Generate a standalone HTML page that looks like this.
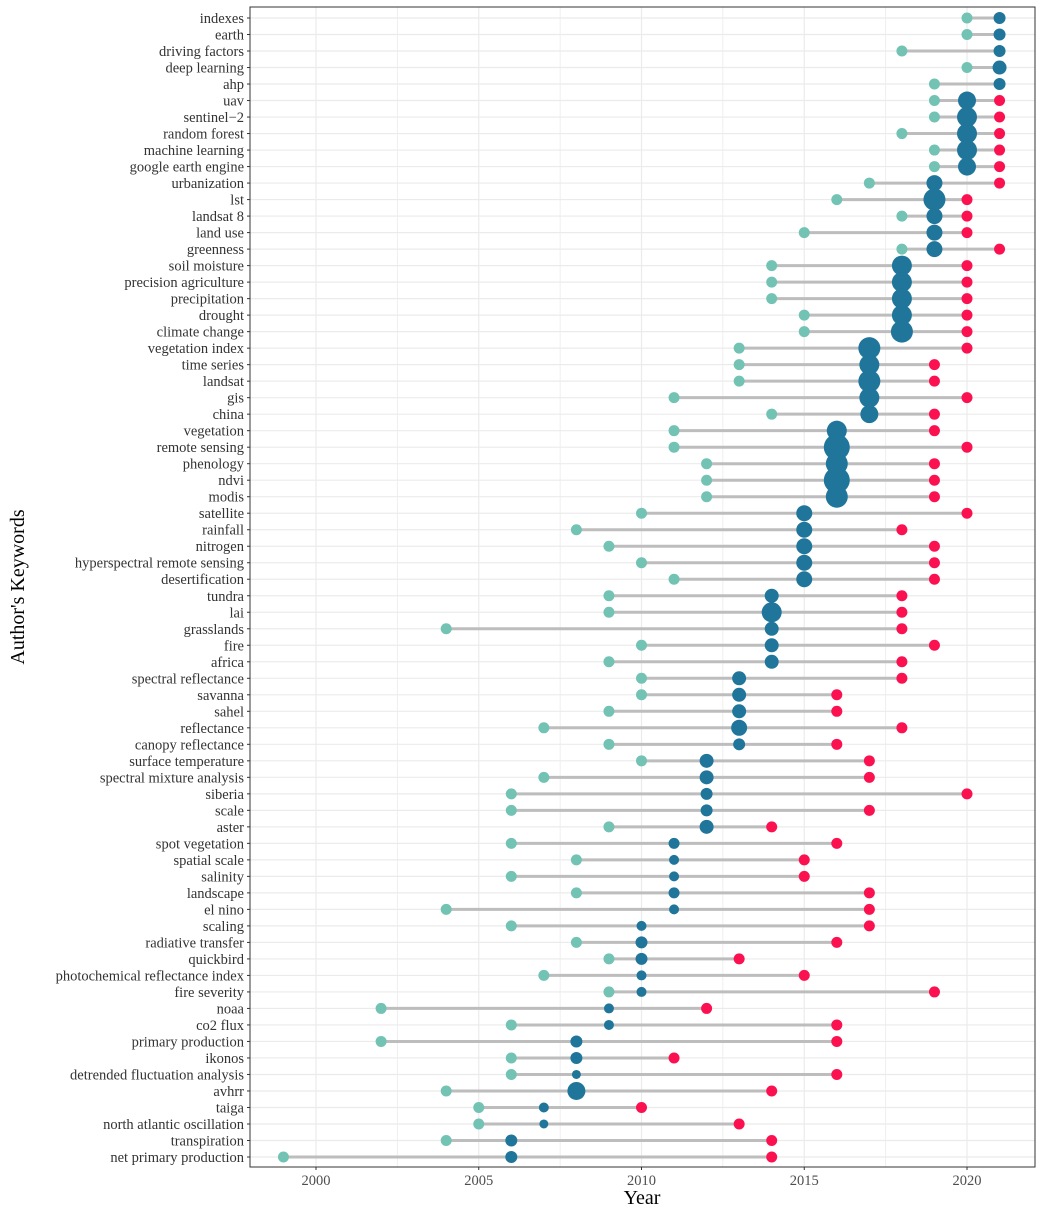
<!DOCTYPE html>
<html><head><meta charset="utf-8">
<style>
html,body{margin:0;padding:0;background:#fff;}
svg{display:block;font-family:"Liberation Serif",serif;}
</style></head>
<body>
<svg id="chart" width="1043" height="1210" viewBox="0 0 1043 1210" xmlns="http://www.w3.org/2000/svg"></svg>
<script>
const keywords = ["indexes","earth","driving factors","deep learning","ahp","uav","sentinel\u22122","random forest","machine learning","google earth engine","urbanization","lst","landsat 8","land use","greenness","soil moisture","precision agriculture","precipitation","drought","climate change","vegetation index","time series","landsat","gis","china","vegetation","remote sensing","phenology","ndvi","modis","satellite","rainfall","nitrogen","hyperspectral remote sensing","desertification","tundra","lai","grasslands","fire","africa","spectral reflectance","savanna","sahel","reflectance","canopy reflectance","surface temperature","spectral mixture analysis","siberia","scale","aster","spot vegetation","spatial scale","salinity","landscape","el nino","scaling","radiative transfer","quickbird","photochemical reflectance index","fire severity","noaa","co2 flux","primary production","ikonos","detrended fluctuation analysis","avhrr","taiga","north atlantic oscillation","transpiration","net primary production"];
const yearQ1 = [2020,2020,2018,2020,2019,2019,2019,2018,2019,2019,2017,2016,2018,2015,2018,2014,2014,2014,2015,2015,2013,2013,2013,2011,2014,2011,2011,2012,2012,2012,2010,2008,2009,2010,2011,2009,2009,2004,2010,2009,2010,2010,2009,2007,2009,2010,2007,2006,2006,2009,2006,2008,2006,2008,2004,2006,2008,2009,2007,2009,2002,2006,2002,2006,2006,2004,2005,2005,2004,1999];
const yearMedian = [2021,2021,2021,2021,2021,2020,2020,2020,2020,2020,2019,2019,2019,2019,2019,2018,2018,2018,2018,2018,2017,2017,2017,2017,2017,2016,2016,2016,2016,2016,2015,2015,2015,2015,2015,2014,2014,2014,2014,2014,2013,2013,2013,2013,2013,2012,2012,2012,2012,2012,2011,2011,2011,2011,2011,2010,2010,2010,2010,2010,2009,2009,2008,2008,2008,2008,2007,2007,2006,2006];
const yearQ3 = [2021,2021,2021,2021,2021,2021,2021,2021,2021,2021,2021,2020,2020,2020,2021,2020,2020,2020,2020,2020,2020,2019,2019,2020,2019,2019,2020,2019,2019,2019,2020,2018,2019,2019,2019,2018,2018,2018,2019,2018,2018,2016,2016,2018,2016,2017,2017,2020,2017,2014,2016,2015,2015,2017,2017,2017,2016,2013,2015,2019,2012,2016,2016,2011,2016,2014,2010,2013,2014,2014];
const freq = [6,6,6,7,6,9,10,10,10,9,8,11,8,8,8,10,10,10,10,11,11,10,11,10,9,10,13,11,13,11,8,8,8,8,8,7,10,7,7,7,7,7,7,8,6,7,7,6,6,7,5.5,5,5,5.5,5,5,6,6,5,5,5,5,6,6,4.5,9,5,4.5,6,6];
const xTicks = [2000,2005,2010,2015,2020];

const svg = document.getElementById('chart');
const NS = 'http://www.w3.org/2000/svg';
const L=250,R=1035,T=7,B=1167;
const x = yr => 316 + (yr-2000)*32.55;
const y = i => 18 + i*(1157-18)/69;
function mk(tag, attrs, parent){const e=document.createElementNS(NS,tag);for(const k in attrs)e.setAttribute(k,attrs[k]);(parent||svg).appendChild(e);return e;}

const grid = mk('g',{});


for(let v=1997.5; v<=2022.5; v+=2.5){const px=x(v); if(px>L&&px<R) mk('line',{x1:px,x2:px,y1:T,y2:B,stroke:'#ebebeb','stroke-width':v%5===0?1.2:0.8},grid);}
keywords.forEach((k,i)=>{mk('line',{x1:L,x2:R,y1:y(i),y2:y(i),stroke:'#ebebeb','stroke-width':1.2},grid);});

const marks = mk('g',{});


keywords.forEach((k,i)=>{
  const s=mk('line',{x1:x(yearQ1[i]),x2:x(yearQ3[i]),y1:y(i),y2:y(i),stroke:'#bdbdbd','stroke-width':3},marks);
  
  
  const a=mk('circle',{cx:x(yearQ1[i]),cy:y(i),r:5.5,fill:'#72c3b4'},marks);
  
  
  const c=mk('circle',{cx:x(yearQ3[i]),cy:y(i),r:5.5,fill:'#fb1150'},marks);
  
  
});
keywords.forEach((k,i)=>{
  const m=mk('circle',{cx:x(yearMedian[i]),cy:y(i),r:freq[i],fill:'#20759b'},marks);
  
  
});

const border=mk('rect',{x:L,y:T,width:R-L,height:B-T,fill:'none',stroke:'#333','stroke-width':1});



const ylab=mk('g',{'font-size':14.5,fill:'#333','text-anchor':'end'});


keywords.forEach((k,i)=>{
  mk('line',{x1:L-3,x2:L,y1:y(i),y2:y(i),stroke:'#333'},ylab);
  const t=mk('text',{x:L-6,y:y(i)+5},ylab);t.textContent=k;
  
  
});
const xlab=mk('g',{'font-size':14.5,fill:'#4d4d4d','text-anchor':'middle'});


xTicks.forEach(v=>{
  mk('line',{x1:x(v),x2:x(v),y1:B,y2:B+3,stroke:'#333'},xlab);
  const t=mk('text',{x:x(v),y:B+18},xlab);t.textContent=v;
  
  
});
const xt=mk('text',{x:642,y:1204,'font-size':20,'text-anchor':'middle',fill:'#000'});xt.textContent='Year';


const yt=mk('text',{x:0,y:0,'font-size':20,'text-anchor':'middle',fill:'#000',transform:'translate(24,587) rotate(-90)'});yt.textContent="Author's Keywords";


</script>
</body></html>
